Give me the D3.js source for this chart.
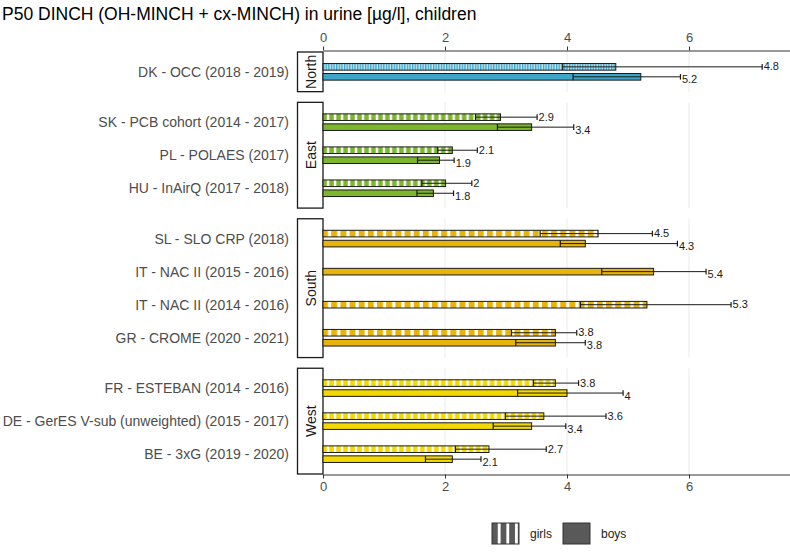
<!DOCTYPE html>
<html><head><meta charset="utf-8">
<script src="https://cdn.jsdelivr.net/npm/d3@7"></script>
<style>body{margin:0;background:#fff}svg{display:block;font-family:"Liberation Sans",Arial,sans-serif}</style>
</head><body><svg id="c" width="790" height="552"></svg>
<script>
const title = "P50 DINCH (OH-MINCH + cx-MINCH) in urine [µg/l], children";
const regions = ["North","East","South","West"];
const regionColors = ["#3ea6c8","#7cb62c","#e6b40a","#f4d900"];
const studies = ["DK - OCC (2018 - 2019)","SK - PCB cohort (2014 - 2017)","PL - POLAES (2017)","HU - InAirQ (2017 - 2018)","SL - SLO CRP (2018)","IT - NAC II (2015 - 2016)","IT - NAC II (2014 - 2016)","GR - CROME (2020 - 2021)","FR - ESTEBAN (2014 - 2016)","DE - GerES V-sub (unweighted) (2015 - 2017)","BE - 3xG (2019 - 2020)"];
const studyRegion = ["North","East","East","East","South","South","South","South","West","West","West"];
const girlsP50 = [4.80,2.91,2.12,2.01,4.51,null,5.31,3.81,3.81,3.62,2.72];
const girlsLow = [3.93,2.50,1.88,1.62,3.56,null,4.22,3.09,3.45,2.99,2.17];
const girlsUp  = [7.20,3.51,2.53,2.44,5.40,null,6.69,4.16,4.19,4.64,3.66];
const boysP50  = [5.21,3.42,1.91,1.81,4.30,5.42,null,3.81,4.00,3.42,2.12];
const boysLow  = [4.10,2.86,1.55,1.54,3.89,4.57,null,3.16,3.19,2.79,1.68];
const boysUp   = [5.86,4.11,2.15,2.14,5.81,6.28,null,4.30,4.92,3.98,2.59];
const xTicks = [0,2,4,6];
const sexes = ["girls","boys"];

const svg = d3.select("#c");
const x = d3.scaleLinear().domain([0, 7.656]).range([323, 790]);
const top0 = 52, bottom0 = 474, gap = 10.67;
const counts = regions.map(r => studyRegion.filter(s => s === r).length);
const units = d3.sum(counts, n => n + 0.2);
const unit = (bottom0 - top0 - gap*(regions.length-1)) / units;

svg.append("text").attr("x",2).attr("y",20).attr("font-size",17.5).attr("fill","#000").text(title);

const defs = svg.append("defs");
let yPos = top0;
const panels = regions.map((r,i) => {
  const h = (counts[i] + 0.2) * unit;
  const p = {region:r, top:yPos, h:h, color:regionColors[i]};
  yPos += h + gap;
  return p;
});

panels.forEach((p,i) => {
  const period = 0.066 * p.h;
  const pat = defs.append("pattern").attr("id","pat"+i).attr("patternUnits","userSpaceOnUse")
    .attr("x", x(0)).attr("y",0).attr("width",period).attr("height",10);
  pat.append("rect").attr("width",period).attr("height",10).attr("fill",p.color);
  pat.append("rect").attr("x",period*0.55).attr("width",period*0.35).attr("height",10).attr("fill","#fff");
});
const lp = defs.append("pattern").attr("id","patLeg").attr("patternUnits","userSpaceOnUse")
  .attr("x",492).attr("y",0).attr("width",8.6).attr("height",10);
lp.append("rect").attr("width",8.6).attr("height",10).attr("fill","#595959");
lp.append("rect").attr("x",5.8).attr("width",2.8).attr("height",10).attr("fill","#fff");

panels.forEach((p,i) => {
  const names = studies.filter((s,k) => studyRegion[k] === p.region);
  const idx = studies.map((s,k)=>k).filter(k => studyRegion[k] === p.region);
  const y = d3.scalePoint().domain(names).range([p.top, p.top + p.h]).padding(0.6);
  const g = svg.append("g");
  g.selectAll("line.grid").data(xTicks.filter(t=>t>0)).join("line")
    .attr("x1",d=>x(d)).attr("x2",d=>x(d)).attr("y1",p.top).attr("y2",p.top+p.h)
    .attr("stroke","#ebebeb").attr("stroke-width",1);
  g.append("rect").attr("x",297.5).attr("y",p.top).attr("width",x(0)-297.5).attr("height",p.h)
    .attr("fill","#fff").attr("stroke","#1a1a1a").attr("stroke-width",1.3);
  g.append("text").attr("transform",`translate(${(297.5+x(0))/2+0.5},${p.top+p.h/2}) rotate(-90)`)
    .attr("text-anchor","middle").attr("dominant-baseline","central").attr("font-size",14).attr("fill","#1a1a1a").text(p.region);
  g.selectAll("text.yl").data(names).join("text")
    .attr("x",289).attr("y",d=>y(d)).attr("text-anchor","end").attr("dominant-baseline","central")
    .attr("font-size",14).attr("fill","#4d4d4d").text(d=>d);
  const step = y.step();
  const off = 0.151 * step, bh = 0.2 * step;
  const recs = [];
  idx.forEach(k => {
    const both = girlsP50[k] != null && boysP50[k] != null;
    const rows = [
      {sex:"girls", v:girlsP50[k], lo:girlsLow[k], hi:girlsUp[k]},
      {sex:"boys", v:boysP50[k], lo:boysLow[k], hi:boysUp[k]}
    ];
    rows.forEach(r => {
      if (r.v == null) return;
      const c = y(studies[k]) + (both ? (r.sex === "girls" ? -off : off) : 0);
      recs.push(Object.assign({c:c}, r));
    });
  });
  const bg = g.selectAll("g.bar").data(recs).join("g");
  bg.append("rect").attr("x",x(0)).attr("y",d=>d.c-bh/2).attr("width",d=>x(d.v)-x(0)).attr("height",bh)
    .attr("fill",d=>d.sex==="girls" ? `url(#pat${i})` : p.color)
    .attr("stroke","#1a1a1a").attr("stroke-width",1);
  bg.append("line").attr("x1",d=>x(d.lo)).attr("x2",d=>x(d.hi)).attr("y1",d=>d.c).attr("y2",d=>d.c)
    .attr("stroke","#1a1a1a").attr("stroke-width",1);
  bg.append("line").attr("x1",d=>x(d.lo)).attr("x2",d=>x(d.lo)).attr("y1",d=>d.c-bh/2).attr("y2",d=>d.c+bh/2)
    .attr("stroke","#1a1a1a").attr("stroke-width",1.2);
  bg.append("line").attr("x1",d=>x(d.hi)).attr("x2",d=>x(d.hi)).attr("y1",d=>d.c-bh/2+0.5).attr("y2",d=>d.c+bh/2-0.5)
    .attr("stroke","#1a1a1a").attr("stroke-width",1.2);
  bg.append("text").attr("x",d=>x(d.hi)+1.5).attr("y",d=>d.c + (d.sex==="girls" ? -0.5 : 2.5))
    .attr("dominant-baseline","central").attr("font-size",11).attr("fill","#1a1a1a")
    .text(d => String(+d.v.toFixed(1)));
});

const axT = svg.append("g").attr("transform","translate(0,50.5)").call(d3.axisTop(x).tickValues(xTicks).tickSize(4).tickSizeOuter(0));
const axB = svg.append("g").attr("transform",`translate(0,${bottom0+0.5})`).call(d3.axisBottom(x).tickValues(xTicks).tickSize(4).tickSizeOuter(0));
[axT, axB].forEach(a => {
  a.select(".domain").attr("stroke","#333").attr("stroke-width",1);
  a.selectAll(".tick line").attr("stroke","#333");
  a.selectAll(".tick text").attr("font-size",13).attr("fill","#4d4d4d").attr("font-family",'"Liberation Sans",Arial,sans-serif');
});
axT.selectAll(".tick text").attr("dy","-0.1em");
axB.selectAll(".tick text").attr("dy","0.75em");

const leg = svg.append("g");
const legKeys = [{label:"girls", x:492, fill:"url(#patLeg)"},{label:"boys", x:563, fill:"#595959"}];
leg.selectAll("rect").data(legKeys).join("rect").attr("x",d=>d.x).attr("y",523).attr("width",27).attr("height",21)
  .attr("fill",d=>d.fill).attr("stroke","#333").attr("stroke-width",1);
leg.selectAll("text").data(legKeys).join("text").attr("x",d=>d.x+38).attr("y",534).attr("dominant-baseline","central")
  .attr("font-size",12).attr("fill","#1a1a1a").text(d=>d.label);
</script></body></html>
